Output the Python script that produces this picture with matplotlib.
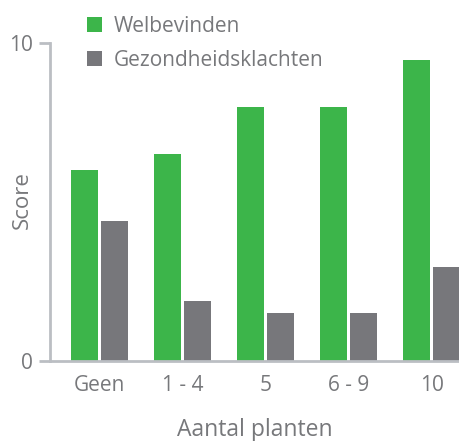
import numpy as np
import matplotlib
matplotlib.use('Agg')
import matplotlib.pyplot as plt

# Data
categories = ['Geen', '1 - 4', '5', '6 - 9', '10']
welbevinden = [6.0, 6.5, 8.0, 8.0, 9.45]
klachten = [4.4, 1.9, 1.5, 1.5, 2.95]

green = '#3cb54a'
grey = '#77777b'
text_col = '#77787b'
axis_col = '#bbbec3'

plt.rcParams['font.family'] = ['Open Sans', 'DejaVu Sans']

fig = plt.figure(figsize=(4.6, 4.41), dpi=100)
ax = fig.add_axes([50 / 460, 80 / 441, 410 / 460, 318 / 441])

x = np.arange(len(categories))
w = 0.325
off = 0.181
ax.bar(x - off, welbevinden, width=w, color=green, label='Welbevinden')
ax.bar(x + off, klachten, width=w, color=grey, label='Gezondheidsklachten')

ax.set_xlim(-0.596, 4.343)
ax.set_ylim(0, 10)
ax.set_yticks([0, 10])
ax.set_xticks(x)
ax.set_xticklabels(categories)

for s in ['top', 'right']:
    ax.spines[s].set_visible(False)
for s in ['left', 'bottom']:
    ax.spines[s].set_color(axis_col)
    ax.spines[s].set_linewidth(2)

ax.tick_params(axis='y', length=8, width=2, color=axis_col, labelcolor=text_col,
               labelsize=15, pad=4)
ax.tick_params(axis='x', length=0, labelcolor=text_col, labelsize=15, pad=10)

ax.set_ylabel('Score', color=text_col, fontsize=16)
ax.yaxis.set_label_coords(-0.042, 0.506)
ax.set_xlabel('Aantal planten', color=text_col, fontsize=16.5)
ax.xaxis.set_label_coords(0.5, -0.178)

leg = ax.legend(loc='upper left', bbox_to_anchor=(87 / 460, 1 - 16 / 441),
                bbox_transform=fig.transFigure, frameon=False, fontsize=15,
                handlelength=0.7, handleheight=0.7, handletextpad=0.6,
                labelspacing=0.6, borderpad=0, borderaxespad=0)
for t in leg.get_texts():
    t.set_color(text_col)

fig.savefig('out.png', dpi=100)
